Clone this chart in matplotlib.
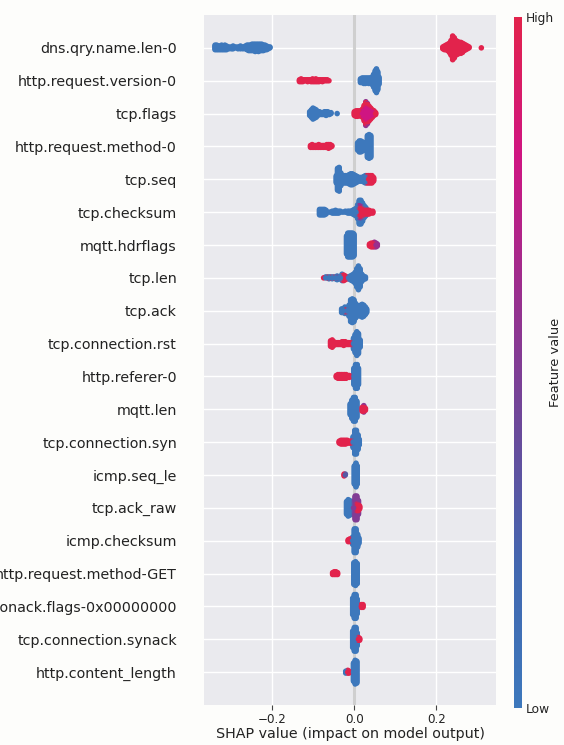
import numpy as np
import matplotlib
matplotlib.use("Agg")
import matplotlib.pyplot as plt
from matplotlib.colors import LinearSegmentedColormap
from matplotlib.cm import ScalarMappable
from matplotlib.colors import Normalize

# ---------------- data ----------------
# each entry: (SHAP value, number of stacked samples, feature value 0=low .. 1=high)
features = [
    "dns.qry.name.len-0", "http.request.version-0", "tcp.flags",
    "http.request.method-0", "tcp.seq", "tcp.checksum", "mqtt.hdrflags",
    "tcp.len", "tcp.ack", "tcp.connection.rst", "http.referer-0", "mqtt.len",
    "tcp.connection.syn", "icmp.seq_le", "tcp.ack_raw", "icmp.checksum",
    "http.request.method-GET", "mqtt.conack.flags-0x00000000",
    "tcp.connection.synack", "http.content_length",
]

dns_qry_name_len = [
    (-0.340, 6, 0), (-0.336, 6, 0), (-0.332, 5, 0), (-0.328, 5, 0), (-0.324, 6, 0),
    (-0.320, 5, 0), (-0.316, 6, 0), (-0.312, 5, 0), (-0.306, 3, 0), (-0.300, 3, 0),
    (-0.296, 4, 0), (-0.290, 2, 0), (-0.284, 3, 0), (-0.278, 4, 0), (-0.272, 3, 0),
    (-0.266, 4, 0), (-0.262, 6, 0), (-0.258, 7, 0), (-0.254, 7, 0), (-0.250, 8, 0),
    (-0.246, 8, 0), (-0.242, 9, 0), (-0.238, 8, 0), (-0.234, 9, 0), (-0.230, 8, 0),
    (-0.226, 8, 0), (-0.222, 7, 0), (-0.218, 6, 0), (-0.214, 5, 0), (-0.210, 3, 0),
    (-0.206, 2, 0),
    (0.216, 3, 1), (0.220, 5, 1), (0.224, 6, 1), (0.228, 8, 1), (0.232, 11, 1),
    (0.236, 17, 1), (0.240, 27, 1), (0.244, 23, 1), (0.248, 17, 1), (0.252, 15, 1),
    (0.256, 13, 1), (0.260, 13, 1), (0.264, 11, 1), (0.268, 8, 1), (0.272, 6, 1),
    (0.276, 4, 1), (0.280, 2, 1), (0.310, 1, 1),
]
http_request_version = [
    (-0.134, 3, 1), (-0.130, 4, 1), (-0.126, 3, 1), (-0.122, 2, 1), (-0.118, 2, 1),
    (-0.114, 3, 1), (-0.110, 2, 1), (-0.106, 3, 1), (-0.102, 4, 1), (-0.098, 3, 1),
    (-0.094, 4, 1), (-0.090, 3, 1), (-0.086, 3, 1), (-0.082, 2, 1), (-0.078, 3, 1),
    (-0.074, 2, 1), (-0.070, 2, 1), (-0.066, 2, 1), (-0.062, 1, 1),
    (0.015, 5, 0), (0.019, 6, 0), (0.023, 7, 0), (0.027, 7, 0), (0.031, 6, 0),
    (0.035, 7, 0), (0.039, 6, 0), (0.043, 9, 0), (0.047, 15, 0), (0.051, 23, 0),
    (0.054, 27, 0), (0.057, 21, 0), (0.060, 9, 0),
]
tcp_flags = [
    (-0.109, 5, 0), (-0.105, 9, 0), (-0.101, 13, 0), (-0.097, 11, 0), (-0.093, 9, 0),
    (-0.089, 5, 0), (-0.085, 4, 0), (-0.081, 3, 0), (-0.077, 3, 0), (-0.073, 4, 0),
    (-0.069, 5, 0), (-0.065, 4, 0), (-0.061, 3, 0), (-0.057, 2, 0), (-0.042, 1, 0),
    (0.000, 5, 1), (0.004, 7, 1), (0.008, 7, 1), (0.012, 6, 1), (0.016, 7, 1),
    (0.020, 5, 0.8), (0.024, 9, 0.8), (0.028, 13, 0.8), (0.032, 11, 0.8),
    (0.036, 9, 0.8), (0.040, 7, 0.8), (0.044, 5, 0.8), (0.048, 3, 0.8),
    (0.020, 5, 1), (0.024, 9, 1), (0.028, 11, 1), (0.032, 9, 1), (0.036, 8, 1),
    (0.040, 6, 1), (0.044, 4, 1), (0.048, 3, 1), (0.052, 3, 1),
    (0.028, 3, 0.55), (0.032, 3, 0.55),
]
http_request_method = [
    (-0.107, 3, 1), (-0.103, 4, 1), (-0.099, 3, 1), (-0.095, 3, 1), (-0.091, 3, 1),
    (-0.087, 4, 1), (-0.083, 3, 1), (-0.079, 3, 1), (-0.075, 3, 1), (-0.071, 3, 1),
    (-0.067, 4, 1), (-0.063, 5, 1), (-0.059, 4, 1), (-0.055, 2, 1),
    (0.008, 9, 0), (0.012, 13, 0), (0.016, 13, 0), (0.020, 11, 0), (0.024, 9, 0),
    (0.028, 9, 0), (0.032, 25, 0), (0.036, 27, 0), (0.040, 25, 0),
]
tcp_seq = [
    (-0.044, 9, 0), (-0.041, 25, 0), (-0.037, 27, 0), (-0.033, 15, 0), (-0.029, 9, 0),
    (-0.025, 9, 0), (-0.021, 9, 0), (-0.017, 9, 0), (-0.013, 11, 0), (-0.009, 13, 0),
    (-0.005, 13, 0), (-0.001, 11, 0), (0.003, 9, 0), (0.007, 7, 0), (0.011, 5, 0),
    (0.015, 5, 0), (0.019, 5, 0), (0.023, 7, 0), (0.027, 9, 0), (0.031, 5, 0),
    (0.031, 4, 1), (0.035, 9, 1), (0.039, 9, 1), (0.043, 9, 1), (0.047, 5, 1),
]
tcp_checksum = [
    (-0.085, 7, 0), (-0.081, 7, 0), (-0.077, 7, 0), (-0.073, 7, 0), (-0.069, 5, 0),
    (-0.060, 1, 0), (-0.054, 3, 0), (-0.050, 3, 0), (-0.046, 4, 0), (-0.042, 3, 0),
    (-0.038, 3, 0), (-0.034, 2, 0), (-0.028, 1, 0), (-0.022, 2, 0), (-0.016, 3, 0),
    (-0.012, 3, 0), (-0.008, 3, 0),
    (0.008, 5, 1), (0.012, 9, 1), (0.016, 9, 1), (0.020, 9, 1), (0.024, 7, 1),
    (0.028, 5, 1), (0.032, 5, 1), (0.036, 5, 1), (0.040, 3, 1), (0.045, 3, 1),
    (0.012, 5, 0.6), (0.016, 5, 0.6), (0.020, 3, 0.6),
    (-0.004, 5, 0), (0.000, 7, 0), (0.004, 9, 0), (0.008, 11, 0), (0.012, 13, 0),
    (0.016, 13, 0), (0.020, 9, 0), (0.024, 7, 0), (0.028, 5, 0),
]
mqtt_hdrflags = [
    (-0.019, 21, 0), (-0.016, 27, 0), (-0.013, 27, 0), (-0.010, 27, 0),
    (-0.007, 27, 0), (-0.004, 27, 0), (-0.001, 25, 0),
    (0.037, 3, 1), (0.041, 5, 1), (0.045, 5, 1), (0.049, 3, 1),
    (0.049, 3, 0.6), (0.053, 5, 0.6), (0.056, 3, 0.6),
]
tcp_len = [
    (-0.075, 1, 1), (-0.066, 2, 1), (-0.058, 2, 1), (-0.050, 2, 1),
    (-0.030, 5, 1), (-0.026, 7, 1), (-0.022, 5, 1), (-0.018, 3, 1),
    (-0.042, 2, 0.5),
    (-0.070, 2, 0), (-0.062, 3, 0), (-0.054, 3, 0), (-0.046, 3, 0), (-0.042, 3, 0),
    (-0.038, 3, 0), (-0.034, 3, 0), (-0.030, 3, 0), (-0.014, 3, 0), (-0.010, 5, 0),
    (-0.006, 7, 0), (-0.002, 9, 0), (0.002, 13, 0), (0.006, 21, 0), (0.010, 27, 0),
    (0.014, 21, 0), (0.018, 9, 0), (0.022, 5, 0), (0.027, 3, 0),
]
tcp_ack = [
    (-0.023, 3, 1), (-0.019, 3, 1),
    (-0.031, 5, 0), (-0.027, 5, 0), (-0.023, 5, 0), (-0.017, 7, 0), (-0.013, 13, 0),
    (-0.009, 25, 0), (-0.005, 27, 0), (-0.001, 25, 0), (0.003, 17, 0), (0.007, 13, 0),
    (0.011, 11, 0), (0.015, 13, 0), (0.019, 15, 0), (0.023, 13, 0), (0.027, 9, 0),
    (0.030, 5, 0),
]
tcp_connection_rst = [
    (-0.058, 7, 1), (-0.054, 9, 1), (-0.050, 5, 1), (-0.046, 3, 1), (-0.042, 3, 1),
    (-0.038, 3, 1), (-0.034, 3, 1), (-0.030, 4, 1), (-0.026, 5, 1), (-0.022, 4, 1),
    (-0.018, 3, 1), (-0.014, 3, 1), (-0.010, 3, 1), (-0.006, 3, 1),
    (-0.002, 13, 0), (0.002, 21, 0), (0.006, 27, 0), (0.010, 23, 0), (0.014, 9, 0),
]
http_referer = [
    (-0.044, 3, 1), (-0.040, 5, 1), (-0.036, 5, 1), (-0.032, 5, 1), (-0.028, 5, 1),
    (-0.024, 5, 1), (-0.020, 5, 1), (-0.016, 3, 1), (-0.012, 3, 1),
    (-0.001, 19, 0), (0.003, 27, 0), (0.007, 27, 0), (0.010, 19, 0),
]
mqtt_len = [
    (-0.010, 13, 0), (-0.006, 21, 0), (-0.002, 27, 0), (0.002, 27, 0), (0.006, 19, 0),
    (0.019, 5, 1), (0.023, 5, 1), (0.027, 3, 1), (0.023, 3, 0.55),
]
tcp_connection_syn = [
    (-0.037, 3, 1), (-0.033, 5, 1), (-0.029, 5, 1), (-0.025, 5, 1), (-0.021, 5, 1),
    (-0.017, 4, 1), (-0.013, 3, 1), (-0.009, 3, 1), (-0.005, 3, 1),
    (-0.003, 13, 0), (0.001, 27, 0), (0.005, 27, 0), (0.009, 17, 0), (0.012, 7, 0),
]
icmp_seq_le = [
    (-0.025, 3, 1), (-0.022, 2, 0.3),
    (0.000, 21, 0), (0.004, 27, 0), (0.007, 21, 0),
]
tcp_ack_raw = [
    (-0.019, 15, 0), (-0.015, 19, 0), (-0.011, 17, 0), (-0.007, 13, 0),
    (0.002, 6, 1), (0.006, 8, 1), (0.010, 7, 1), (0.013, 4, 1),
    (-0.002, 15, 0.5), (0.002, 21, 0.5), (0.006, 19, 0.5), (0.010, 9, 0.5),
]
icmp_checksum = [
    (-0.015, 3, 1), (-0.011, 4, 1),
    (-0.004, 9, 0), (0.000, 27, 0), (0.004, 27, 0), (0.008, 15, 0), (0.011, 7, 0),
]
http_request_method_get = [
    (-0.053, 3, 1), (-0.049, 4, 1), (-0.045, 4, 1), (-0.041, 3, 1),
    (-0.001, 25, 0), (0.003, 27, 0), (0.007, 23, 0),
]
mqtt_conack_flags = [
    (-0.004, 19, 0), (0.000, 27, 0), (0.004, 27, 0), (0.007, 17, 0),
    (0.017, 4, 1), (0.021, 4, 1),
]
tcp_connection_synack = [
    (-0.004, 19, 0), (0.000, 27, 0), (0.004, 27, 0), (0.007, 15, 0),
    (0.010, 4, 1), (0.013, 3, 1),
]
http_content_length = [
    (-0.021, 3, 0), (-0.016, 4, 1), (-0.013, 3, 1),
    (-0.002, 21, 0), (0.002, 27, 0), (0.006, 25, 0),
]

rows = [
    dns_qry_name_len, http_request_version, tcp_flags, http_request_method,
    tcp_seq, tcp_checksum, mqtt_hdrflags, tcp_len, tcp_ack, tcp_connection_rst,
    http_referer, mqtt_len, tcp_connection_syn, icmp_seq_le, tcp_ack_raw,
    icmp_checksum, http_request_method_get, mqtt_conack_flags,
    tcp_connection_synack, http_content_length,
]

x_ticks = [-0.2, 0.0, 0.2]

# ---------------- style ----------------
cmap = LinearSegmentedColormap.from_list(
    "shap_like",
    [(0.0, "#3d78bc"), (0.2, "#4268b0"), (0.4, "#6a4a9a"),
     (0.6, "#9a2f8e"), (0.8, "#cf1582"), (1.0, "#e2234c")])

W, H = 564, 745
fig = plt.figure(figsize=(W / 100, H / 100), dpi=100, facecolor="#fdfdfb")
ax = fig.add_axes([204 / W, 40 / H, (496.5 - 204) / W, 690 / H])
ax.set_facecolor("#eaeaee")
for s in ax.spines.values():
    s.set_visible(False)

n = len(features)
dy = 0.36 / 13.0
for i, entries in enumerate(rows):
    ypos = n - 1 - i
    stacks = {}
    for (xv, cnt, fv) in entries:
        key = round(xv, 4)
        stacks.setdefault(key, []).extend([fv] * cnt)
    pts = []
    for xv, vals in stacks.items():
        for layer, fv in enumerate(vals):
            off = np.ceil(layer / 2) * ((layer % 2) * 2 - 1) * dy
            pts.append((layer, xv, ypos + off, fv))
    pts.sort(key=lambda p: -p[0])
    arr = np.array([(p[1], p[2], p[3]) for p in pts])
    ax.scatter(arr[:, 0], arr[:, 1], c=arr[:, 2], cmap=cmap, vmin=0, vmax=1,
               s=16, linewidths=0, zorder=3)

ax.axvline(0, color="#cfcfcf", lw=2.2, zorder=2)
ax.set_xlim(-0.367, 0.347)
ax.set_ylim(-1, n)
ax.set_yticks(range(n))
ax.set_yticklabels(features[::-1], fontsize=10.3, color="#222222")
ax.set_xticks(x_ticks)
ax.set_xticklabels(["\u22120.2", "0.0", "0.2"])
ax.tick_params(axis="y", length=0, pad=19.5)
ax.tick_params(axis="x", length=3.5, width=0.8, color="#444444", pad=2,
               labelsize=8.6, labelcolor="#222222")
ax.grid(True, color="white", lw=1.0)
ax.set_axisbelow(True)
ax.set_xlabel("SHAP value (impact on model output)", fontsize=10.3,
              color="#222222", labelpad=1)

cax = fig.add_axes([513.5 / W, 1 - 708 / H, 8.5 / W, 691 / H])
sm = ScalarMappable(norm=Normalize(0, 1), cmap=cmap)
cb = fig.colorbar(sm, cax=cax, ticks=[0, 1])
cb.outline.set_visible(False)
cb.ax.set_yticklabels(["Low", "High"])
cb.ax.tick_params(length=0, labelsize=8.8, pad=3, labelcolor="#222222")
cb.set_label("Feature value", fontsize=9.4, labelpad=-4, color="#222222")

fig.savefig("out.png", dpi=100, facecolor=fig.get_facecolor())
